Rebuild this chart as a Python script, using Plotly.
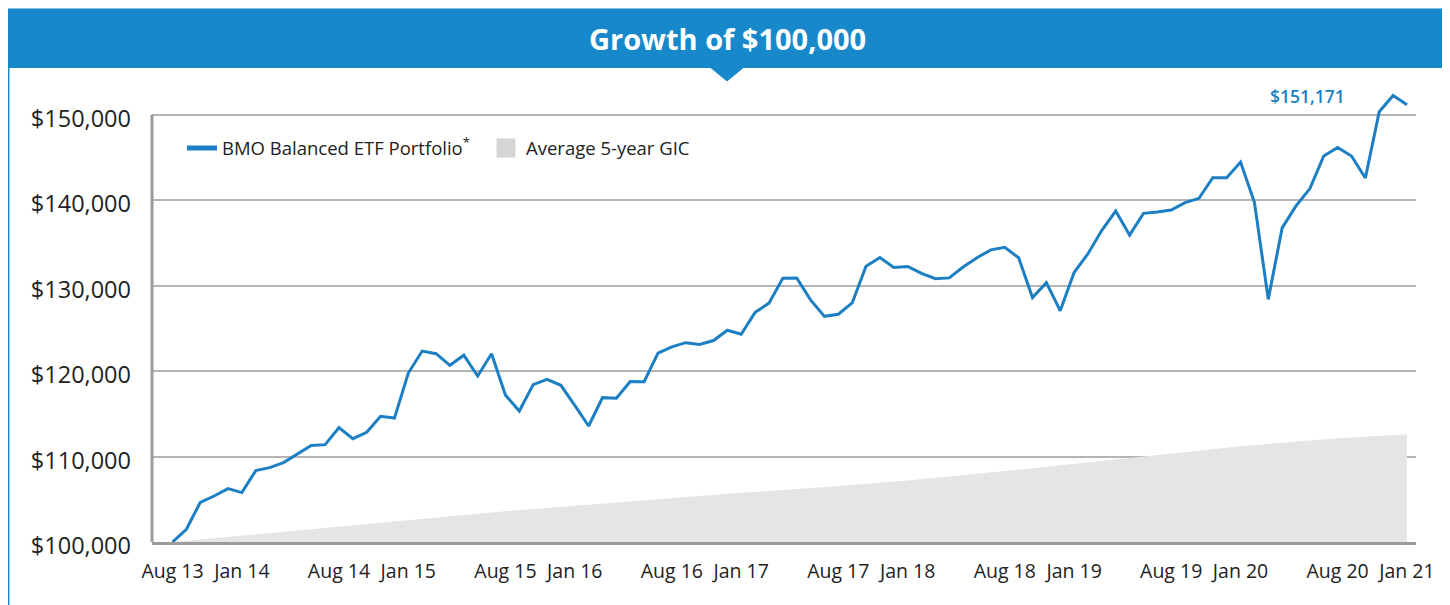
import plotly.graph_objects as go
import pandas as pd

# ---------------- data ----------------
start_month = "2013-08-01"
n_months = 90
bmo_values = [100000, 101490, 104640, 105380, 106250, 105780, 108350, 108700, 109290, 110260,
              111280, 111390, 113380, 112090, 112830, 114700, 114500, 119770, 122340, 122030,
              120670, 121850, 119420, 122030, 117190, 115320, 118410, 119030, 118330, 115990,
              113570, 116890, 116820, 118780, 118760, 122100, 122830, 123320, 123120, 123570,
              124780, 124310, 126860, 127950, 130870, 130880, 128330, 126400, 126650, 127970,
              132260, 133280, 132130, 132230, 131420, 130800, 130900, 132180, 133260, 134180,
              134480, 133260, 128600, 130340, 127060, 131530, 133720, 136470, 138720, 135910,
              138450, 138600, 138830, 139700, 140210, 142630, 142630, 144450, 139750, 128390,
              136750, 139320, 141350, 145170, 146160, 145160, 142590, 150340, 152250, 151171]
gic_index = [0, 5, 12, 17, 24, 29, 36, 41, 48, 53, 60, 65, 72, 77, 84, 89]
gic_values = [100000, 100750, 101800, 102550, 103600, 104250, 105150, 105750, 106550, 107200,
              108300, 109150, 110350, 111200, 112150, 112600]
y_ticks = [100000, 110000, 120000, 130000, 140000, 150000]
title_text = "Growth of $100,000"
series_names = ["BMO Balanced ETF Portfolio<sup>*</sup>", "Average 5-year GIC"]

months = pd.date_range(start_month, periods=n_months, freq="MS")
idx = list(range(n_months))
tick_pos = [i for i, m in enumerate(months) if m.month in (1, 8)]
tick_text = [months[i].strftime("%b %y") for i in tick_pos]

# ---------------- styling ----------------
BLUE = "#1789ca"
LINE = "#1c7fc3"
GIC_FILL = "#e4e5e5"
GIC_KEY = "#d5d6d8"
FONT = "Open Sans"
OFF = 8  # page offset of the figure (body margin)

W, H = 1450, 605
L = 152 - OFF
T = 88.5 - OFF
PLOT_BOTTOM = 541.7 - OFF
PLOT_RIGHT = 1416 - OFF
R = W - PLOT_RIGHT
B = H - PLOT_BOTTOM
PW, PH = PLOT_RIGHT - L, PLOT_BOTTOM - T


def px(xp):
    """page x -> paper x"""
    return (xp - OFF - L) / PW


def py(yp):
    """page y -> paper y"""
    return (PLOT_BOTTOM - (yp - OFF)) / PH


fig = go.Figure()
fig.add_trace(go.Scatter(
    x=gic_index, y=gic_values, name=series_names[1], mode="lines",
    line=dict(width=0, color=GIC_FILL), fill="tozeroy", fillcolor=GIC_FILL,
    hoverinfo="skip", showlegend=False))
fig.add_trace(go.Scatter(
    x=idx, y=bmo_values, name=series_names[0], mode="lines",
    line=dict(width=3, color=LINE), showlegend=False))
# legend keys
fig.add_trace(go.Scatter(
    x=[None], y=[None], name=series_names[0], mode="lines",
    line=dict(width=5, color=LINE), legendrank=1))
fig.add_trace(go.Scatter(
    x=[None], y=[None], name=series_names[1], mode="markers",
    marker=dict(symbol="square", size=16, color=GIC_KEY, line=dict(width=3, color=GIC_KEY)),
    legendrank=2))

shapes = [
    # title bar
    dict(type="rect", xref="paper", yref="paper", x0=px(7.5), x1=px(1447), y0=py(67.5), y1=py(8),
         fillcolor=BLUE, line=dict(width=0), layer="above"),
    # pointer triangle
    dict(type="path", xref="paper", yref="paper",
         path=f"M {px(710)},{py(67)} L {px(744)},{py(67)} L {px(727)},{py(81)} Z",
         fillcolor=BLUE, line=dict(width=0), layer="above"),
    # frame borders
    dict(type="line", xref="paper", yref="paper", x0=px(8.7), x1=px(8.7), y0=py(67), y1=py(620),
         line=dict(color=BLUE, width=1.5)),
    dict(type="line", xref="paper", yref="paper", x0=px(1446), x1=px(1446), y0=py(67), y1=py(620),
         line=dict(color=BLUE, width=1.5)),
    # left axis line
    dict(type="line", xref="paper", yref="y", x0=0, x1=0, y0=y_ticks[0], y1=y_ticks[-1],
         line=dict(color="#9b9b9b", width=3), layer="above"),
]

annotations = [
    dict(text=f"<b>{title_text}</b>", xref="paper", yref="paper", x=px(727), y=py(38),
         xanchor="center", yanchor="middle", showarrow=False,
         font=dict(family=FONT, size=29, color="white")),
    dict(text=f"${bmo_values[-1]:,}", x=idx[-1], y=bmo_values[-1], xref="x", yref="y",
         xanchor="right", yanchor="middle", xshift=-60, yshift=9, showarrow=False,
         font=dict(family=FONT, size=17.5, color=LINE, weight=600)),
]

fig.update_layout(
    width=W, height=H,
    margin=dict(l=L, r=R, t=T, b=B, pad=0),
    paper_bgcolor="white", plot_bgcolor="white",
    font=dict(family=FONT, color="#222222"),
    showlegend=True,
    legend=dict(orientation="h", x=px(182), y=py(148), xanchor="left", yanchor="middle",
                font=dict(family=FONT, size=18.5, color="#222222"),
                bgcolor="rgba(0,0,0,0)", traceorder="normal", itemwidth=30,
                entrywidth=259, entrywidthmode="pixels"),
    shapes=shapes,
    annotations=annotations,
    hovermode=False,
)
fig.update_xaxes(
    range=[-1.48, 89.65], tickmode="array", tickvals=tick_pos, ticktext=tick_text,
    showgrid=False, zeroline=False, showline=True, linecolor="#9b9b9b", linewidth=3,
    ticks="", ticklabelstandoff=10, tickfont=dict(family=FONT, size=19.5, color="#222222"),
)
fig.update_yaxes(
    range=[100000, 153000], tickmode="array", tickvals=y_ticks,
    ticktext=[f"${v:,}" for v in y_ticks],
    showgrid=True, gridcolor="#b5b5b5", gridwidth=1.5, zeroline=False, showline=False,
    ticks="", ticklabelstandoff=20, ticklabelshift=4,
    tickfont=dict(family=FONT, size=23.5, color="#222222"),
)

fig.write_html("out.html")
